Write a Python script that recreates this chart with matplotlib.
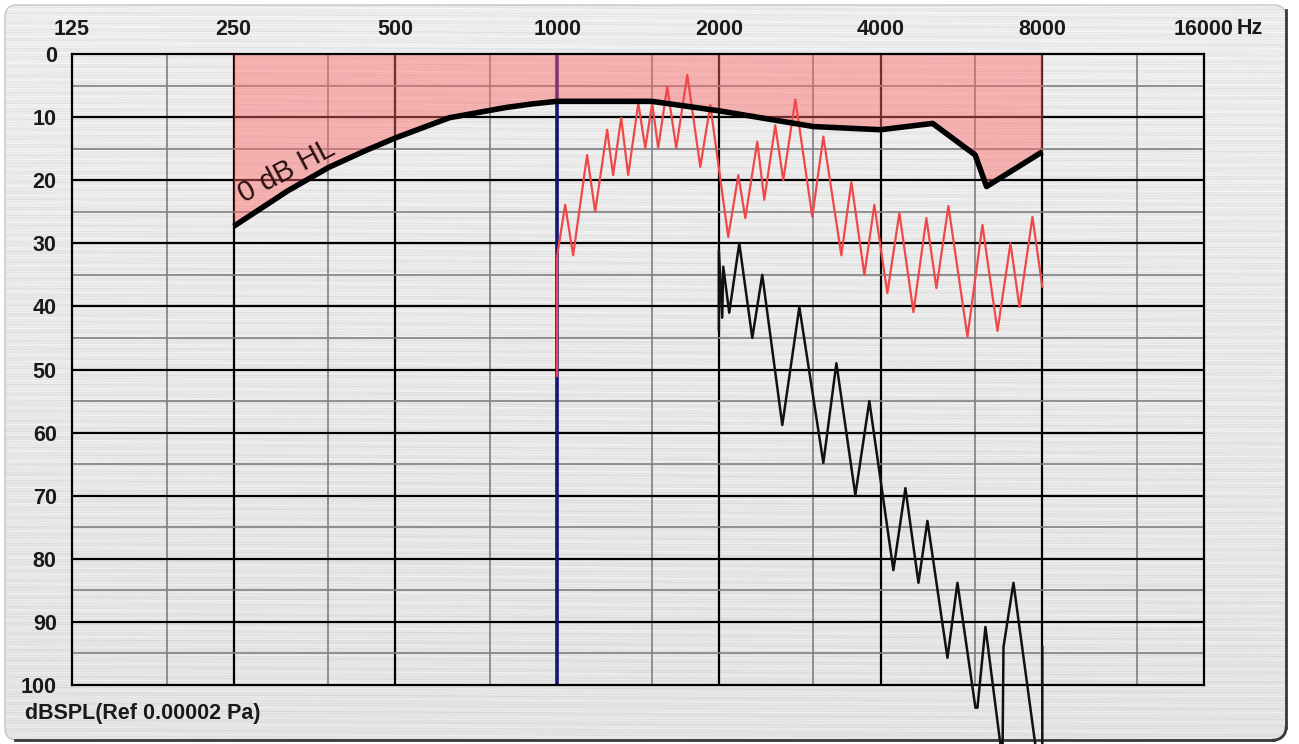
import numpy as np
import matplotlib
matplotlib.use("Agg")
from matplotlib import pyplot as plt
from matplotlib.patches import FancyBboxPatch

W, H = 1299, 744

# x axis (Hz) and y axis (dB SPL)
freq_ticks = [125, 250, 500, 1000, 2000, 4000, 8000, 16000]
freq_minor = [187.5, 375, 750, 1500, 3000, 6000, 12000]
db_ticks = list(range(0, 101, 10))
db_minor = list(range(5, 100, 10))

# 0 dB HL reference curve
hl_freq = [250, 315, 375, 440, 500, 630, 700, 800, 900, 1000, 1500, 2000, 3000,
           4000, 5000, 6000, 6300, 8000]
hl_db = [27.3, 21.7, 18.0, 15.3, 13.3, 10.1, 9.4, 8.5, 7.9, 7.5, 7.5, 9.0, 11.5,
         12.0, 11.0, 16.0, 21.0, 15.5]

# red trace
red_freq = [1000, 1000, 1035, 1071, 1137, 1177, 1239, 1271, 1316, 1356, 1416, 1459,
            1503, 1542, 1603, 1666, 1747, 1847, 1928, 2082, 2174, 2240, 2358, 2430,
            2547, 2636, 2776, 2985, 3130, 3381, 3529, 3732, 3895, 4118, 4336, 4605,
            4868, 5082, 5350, 5805, 6190, 6602, 6980, 7255, 7671, 8000]
red_db = [51, 32, 23.9, 31.9, 16.0, 25.0, 12.0, 19.2, 10.1, 19.2, 7.8, 14.9,
          7.8, 14.9, 5.2, 14.9, 3.3, 17.9, 8.1, 29.0, 19.2, 26.0, 13.9, 23.1,
          11.3, 20.0, 7.2, 25.8, 13.1, 31.9, 20.3, 35.0, 23.9, 37.9, 25.2, 40.9,
          26.0, 37.1, 24.1, 44.8, 27.1, 43.9, 30.0, 40.1, 25.8, 36.9]

# black trace
blk_freq = [2000, 2000, 2029, 2038, 2091, 2183, 2308, 2409, 2625, 2824,
            3130, 3310, 3590, 3812, 4226, 4449, 4705, 4890, 5328, 5561,
            6007, 6059, 6270, 6745, 6774, 7070, 7837, 8000, 8000]
blk_db = [43.7, 31.1, 41.8, 33.7, 41.0, 30.0, 45.0, 35.0, 58.8, 40.1,
          64.8, 49.0, 69.9, 55.0, 81.8, 68.8, 83.8, 74.0, 95.7, 83.8,
          103.6, 103.6, 90.8, 112, 94.0, 83.8, 112, 112, 94]

font = ['Liberation Sans', 'DejaVu Sans']
plt.rcParams['font.family'] = font

fig = plt.figure(figsize=(W / 100, H / 100), dpi=100)
fig.patch.set_facecolor('white')

# brushed metal panel
bg = fig.add_axes([0, 0, 1, 1], zorder=-10)
bg.set_xlim(0, W)
bg.set_ylim(H, 0)
bg.axis('off')
yy, xx = np.mgrid[0:H, 0:W].astype(float)
tex = (0.89 + 0.035 * (1 - yy / H)
       + 0.02 * np.sin(yy * 2.3 + 3 * np.sin(xx / 170.0))
       + 0.014 * np.sin(yy * 0.71 + 2 * np.sin(xx / 310.0 + 1))
       + 0.01 * np.sin(yy * 5.1 + xx / 90.0))
panel = FancyBboxPatch((5, 5), 1281, 735, boxstyle="round,pad=0,rounding_size=12",
                       facecolor='none', edgecolor='#c4c4c4', lw=1, transform=bg.transData)
bg.add_patch(panel)
im = bg.imshow(tex, cmap='gray', vmin=0, vmax=1, extent=[0, W, H, 0], aspect='auto')
im.set_clip_path(panel)
t = np.linspace(0, np.pi / 2, 20)
cx, cy, r = 1286 - 12, 740 - 12, 12
bg.plot([1286, 1286], [10, cy], color='#3a3a3a', lw=2)
bg.plot(cx + r * np.cos(t), cy + r * np.sin(t), color='#3a3a3a', lw=2)
bg.plot([15, cx], [740, 740], color='#3a3a3a', lw=2)

ax = fig.add_axes([72 / W, 1 - 685 / H, (1204 - 72) / W, (685 - 54) / H])
ax.set_facecolor('none')
ax.set_xscale('log', base=2)
ax.set_xlim(125, 16000)
ax.set_ylim(100, 0)

for f in freq_minor:
    ax.axvline(f, color='#808080', lw=1.2, zorder=1)
for f in freq_ticks[1:-1]:
    if f != 1000:
        ax.axvline(f, color='black', lw=1.6, zorder=1)
for d in db_minor:
    ax.axhline(d, color='#808080', lw=1.2, zorder=1)
for d in db_ticks[1:-1]:
    ax.axhline(d, color='black', lw=1.6, zorder=1)
ax.axvline(1000, color='#14147a', lw=2.6, zorder=1.5)

ax.fill_between(hl_freq, 0, hl_db, color='#ff6666', alpha=0.45, lw=0, zorder=2)
ax.plot(red_freq, red_db, color='#f04848', lw=1.6, zorder=3, clip_on=False)
ax.plot(hl_freq, hl_db, color='black', lw=4, zorder=4, solid_capstyle='butt',
        solid_joinstyle='round')
ax.plot(blk_freq, blk_db, color='#111111', lw=1.8, zorder=3, clip_on=False)

ax.text(314, 18.6, '0 dB HL', rotation=28, rotation_mode='anchor',
        ha='center', va='center', fontsize=21, color='#2a1010', zorder=5)

for s in ax.spines.values():
    s.set_linewidth(1.6)
    s.set_color('black')

ax.xaxis.tick_top()
ax.set_xticks(freq_ticks)
ax.set_xticklabels([str(f) for f in freq_ticks])
ax.set_xticks([], minor=True)
ax.set_yticks(db_ticks)
ax.set_yticklabels([str(d) for d in db_ticks])
ax.tick_params(axis='both', length=0, labelsize=15.5, labelcolor='#1a1a1a')
ax.tick_params(axis='x', pad=10)
ax.tick_params(axis='y', pad=11)
for lab in ax.get_xticklabels() + ax.get_yticklabels():
    lab.set_fontweight('bold')

fig.text(1237 / W, 1 - 28 / H, 'Hz', fontsize=15.5, fontweight='bold',
         color='#1a1a1a', va='center', ha='left')
fig.text(25 / W, 1 - 713 / H, 'dBSPL(Ref 0.00002 Pa)', fontsize=15.5,
         fontweight='bold', color='#1a1a1a', va='center', ha='left')

fig.savefig('out.png', dpi=100)
